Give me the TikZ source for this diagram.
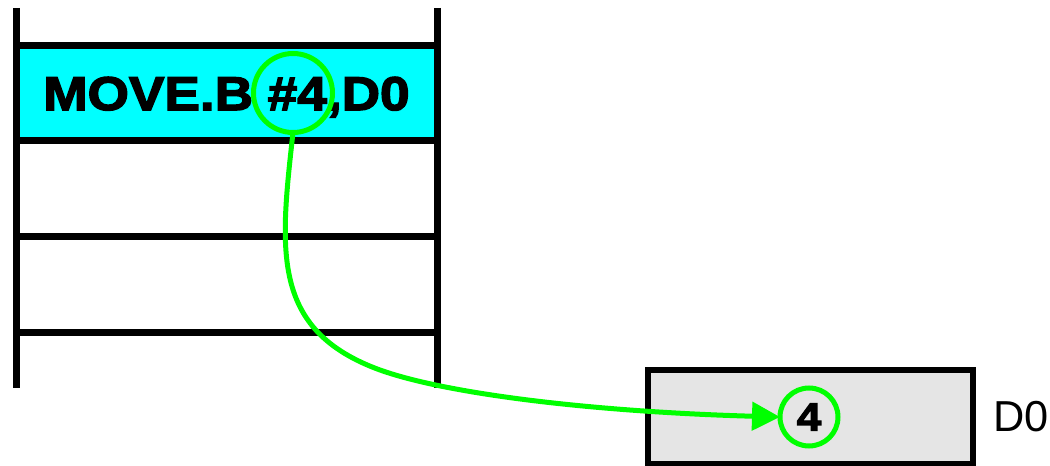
\documentclass[tikz,border=0pt]{standalone}
\usepackage{fontspec}
\setmainfont{Liberation Sans}
\newfontfamily\opfont[FakeStretch=1.12,FakeBold=3]{Liberation Sans Bold}
\usetikzlibrary{positioning,arrows.meta}
\definecolor{instrcyan}{RGB}{0,255,255}
\definecolor{ringgreen}{RGB}{0,255,0}
\definecolor{reggray}{RGB}{229,229,229}
\begin{document}
\begin{tikzpicture}[x=0.75pt,y=-0.75pt,
		cell/.style={draw,line width=5.25pt,minimum width=315.75pt,minimum height=71.75pt,inner sep=0pt,outer sep=0pt},
		ring/.style={draw=ringgreen,line width=3.75pt,circle,inner sep=0pt,outer sep=0pt},
		flow/.style={draw=ringgreen,line width=3.75pt,-{Triangle[length=21pt,width=21pt]}}]
			\useasboundingbox (0,0) rectangle (1050,466);
			% memory
			\node[cell,fill=instrcyan,font=\opfont\fontsize{35.6pt}{36pt}\selectfont,text height=25.6pt,text depth=0pt] (instr) at (226.5,93) {MOVE.B \#4,D0};
			\node[cell,below=0pt of instr] (next) {};
			\node[cell,below=0pt of next] (last) {};
			\foreach \x in {16,437}
				\draw[line width=5.25pt] (\x,8) -- (\x,388);
			\node[ring,minimum size=59.25pt] (srcring) at (293,93) {};
			% register
			\node[draw,line width=4.5pt,fill=reggray,minimum width=243.75pt,minimum height=70.5pt,outer sep=0pt] (reg) at (810.5,417) {};
			\node[ring,minimum size=43.5pt,font=\opfont\fontsize{29.3pt}{30pt}\selectfont] (val) at (809,417) {4};
			\node[right=15pt of reg,inner sep=0pt,font=\fontsize{32.5pt}{33pt}\selectfont] (regname) {D0};
			% data path
			\coordinate (bend) at (380,370);
			\draw[flow] (srcring.south) .. controls (280,250) and (270,330) .. (bend) .. controls (450,395) and (600,412) .. (val.west);
		\end{tikzpicture}
\end{document}
